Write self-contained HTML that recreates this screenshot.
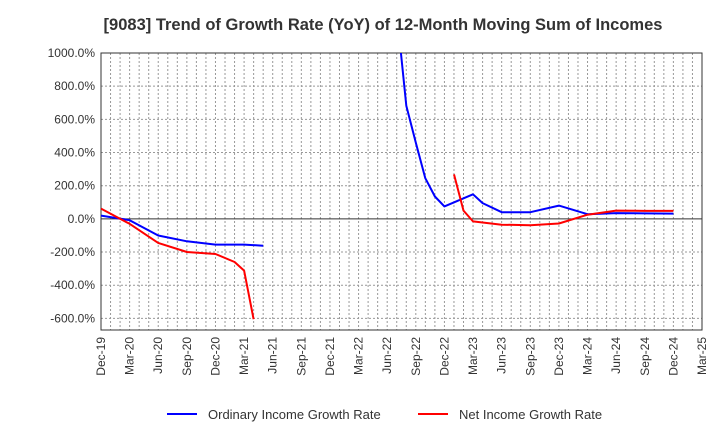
<!DOCTYPE html>
<html><head><meta charset="utf-8"><style>
body{margin:0;background:#fff;font-family:"Liberation Sans",sans-serif;}
</style></head><body>
<svg id="c" width="720" height="440" xmlns="http://www.w3.org/2000/svg">
<text x="383" y="30" text-anchor="middle" font-size="16.5" font-weight="bold" fill="#333">[9083]  Trend of Growth Rate (YoY) of 12-Month Moving Sum of Incomes</text>
<g id="grid"></g><g id="axes"></g><g id="series"></g>
<g>
<line x1="167" y1="414" x2="197" y2="414" stroke="#0000ff" stroke-width="2"/>
<text x="208" y="419" font-size="13" fill="#333">Ordinary Income Growth Rate</text>
<line x1="418" y1="414" x2="448" y2="414" stroke="#ff0000" stroke-width="2"/>
<text x="459" y="419" font-size="13" fill="#333">Net Income Growth Rate</text>
</g>
</svg>
<script>
const xTickLabels=["Dec-19","Mar-20","Jun-20","Sep-20","Dec-20","Mar-21","Jun-21","Sep-21","Dec-21","Mar-22","Jun-22","Sep-22","Dec-22","Mar-23","Jun-23","Sep-23","Dec-23","Mar-24","Jun-24","Sep-24","Dec-24","Mar-25"];
const yTicks=[-600,-400,-200,0,200,400,600,800,1000];
const ordMonths=[0,3,6,9,12,15,17,null,31,32,33,34,35,36,39,40,42,45,48,51,54,57,60];
const ordValues=[20,-8,-100,-135,-155,-155,-162,null,1250,682,460,245,135,75,148,95,40,40,80,28,35,33,32];
const netMonths=[0,3,6,9,12,14,15,16,null,37,38,39,42,45,48,51,54,57,60];
const netValues=[62,-30,-145,-200,-212,-260,-312,-605,null,268,50,-15,-35,-38,-28,25,50,48,48];
const L=101,R=702,T=53,B=330,yMin=-670,yMax=1000,mMax=63;
const X=m=>L+(R-L)*m/mMax;
const Y=v=>T+(B-T)*(yMax-v)/(yMax-yMin);
const NS="http://www.w3.org/2000/svg";
function mk(t,a,p){const e=document.createElementNS(NS,t);for(const k in a)e.setAttribute(k,a[k]);p.appendChild(e);return e;}
const grid=document.getElementById('grid'),axes=document.getElementById('axes'),ser=document.getElementById('series');
const cp=mk('clipPath',{id:'pc'},document.getElementById('c'));mk('rect',{x:L,y:T,width:R-L,height:B-T},cp);
for(let m=1;m<mMax;m++){const l=mk('line',{x1:X(m),x2:X(m),y1:T,y2:B,stroke:'#999','stroke-dasharray':'2,2','stroke-width':1},grid);

}
yTicks.forEach(v=>{const l=mk('line',{x1:L,x2:R,y1:Y(v),y2:Y(v),stroke:v===0?'#333':'#999','stroke-dasharray':v===0?'':'2,2','stroke-width':1},grid);


const t=mk('text',{x:L-6,y:Y(v)+4,'text-anchor':'end','font-size':12,fill:'#333'},axes);
t.textContent=v.toFixed(1)+'%';

});
const fr=mk('rect',{x:L,y:T,width:R-L,height:B-T,fill:'none',stroke:'#333','stroke-width':1},axes);


xTickLabels.forEach((s,i)=>{const x=X(i*3);const t=mk('text',{x:0,y:0,transform:`translate(${x+4},${B+7}) rotate(-90)`,'text-anchor':'end','font-size':12,fill:'#333'},axes);
t.textContent=s;

});
function draw(ms,vs,col,name){let d='',pen=false;ms.forEach((m,i)=>{if(m===null||vs[i]===null){pen=false;return;}d+=(pen?'L':'M')+X(m).toFixed(1)+','+Y(vs[i]).toFixed(1);pen=true;});
const p=mk('path',{d:d,fill:'none',stroke:col,'stroke-width':2,'clip-path':'url(#pc)','stroke-linejoin':'round'},ser);

}
draw(ordMonths,ordValues,'#0000ff','ordinary-income-line');
draw(netMonths,netValues,'#ff0000','net-income-line');
</script>
</body></html>
